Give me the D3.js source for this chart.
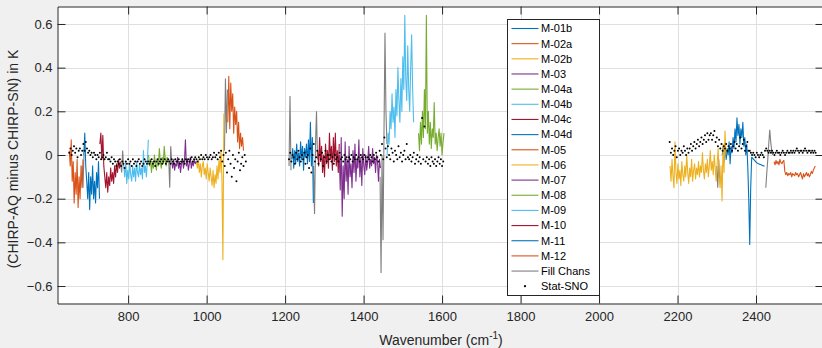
<!DOCTYPE html>
<html><head><meta charset="utf-8">
<script src="https://cdn.jsdelivr.net/npm/d3@7/dist/d3.min.js"></script>
<style>
html,body{margin:0;padding:0;background:#f0f0f0;}
svg{display:block;font-family:"Liberation Sans",Arial,Helvetica,sans-serif;}
</style></head>
<body><svg id="c" width="822" height="348"></svg>
<script>
// ---------- DATA ----------
const chanStep = 2.5;   // cm-1 between plotted channel values
const dotStep = 3;      // cm-1 between Stat-SNO values
const xTicks = [800, 1000, 1200, 1400, 1600, 1800, 2000, 2200, 2400];
const yTicks = [-0.6, -0.4, -0.2, 0, 0.2, 0.4, 0.6];
const legendNames = ["M-01b","M-02a","M-02b","M-03","M-04a","M-04b","M-04c","M-04d",
  "M-05","M-06","M-07","M-08","M-09","M-10","M-11","M-12","Fill Chans","Stat-SNO"];
const moduleColors = ["#0072BD","#D95319","#EDB120","#7E2F8E","#77AC30","#4DBEEE","#A2142F","#0072BD",
  "#D95319","#EDB120","#7E2F8E","#77AC30","#4DBEEE","#A2142F","#0072BD","#D95319"];
const fillColor = "#7f7f7f";

// module start wavenumbers (cm-1), same order as legendNames
const moduleStart = [2314, 2446, 2181, 1338, 1540, 1460, 1283, 1217, 1054, 974, 911, 852, 789, 728, 687, 650];

const M01b = [0.0,0.04,-0.03,0.05,-0.02,0.03,0.0,0.06,-0.04,0.04,0.01,
  0.08,0.03,0.12,0.06,0.17,0.09,0.14,0.05,0.12,0.08,0.15,
  0.04,0.08,0.0,0.05,-0.05,-0.2,-0.41,-0.15,
  -0.01,-0.015,-0.02,-0.025,-0.03,-0.035,-0.038,-0.04,-0.042,-0.044,-0.046,-0.048,-0.05,-0.05];
const M02a = [-0.03,-0.045,-0.025,-0.04,-0.03,-0.045,-0.02,-0.035,-0.04,-0.03,-0.025,-0.075,-0.09,-0.08,
  -0.095,-0.085,-0.09,-0.08,-0.1,-0.085,-0.09,-0.095,-0.08,-0.09,-0.085,-0.1,-0.09,-0.08,-0.095,-0.11,
  -0.085,-0.1,-0.09,-0.08,-0.095,-0.085,-0.1,-0.09,-0.075,-0.085,-0.07,-0.06,-0.05];
const M02b = [-0.05,-0.12,-0.02,-0.1,-0.15,0.06,-0.08,-0.13,-0.04,-0.11,-0.07,-0.14,-0.03,-0.09,-0.12,
  -0.05,-0.1,0.0,-0.08,-0.13,-0.06,-0.1,-0.02,-0.12,-0.07,-0.04,-0.11,-0.06,-0.09,-0.03,-0.1,-0.05,-0.08,
  0.01,-0.07,-0.11,-0.04,-0.08,-0.02,-0.1,-0.05,0.02,-0.07,-0.03,-0.09,0.0,-0.06,-0.12,-0.04,0.03,-0.1,
  -0.15,-0.05,-0.21,0.05,-0.08,0.11,0.0];
const M03 = [0.0,-0.16,0.08,-0.28,-0.05,-0.2,0.06,-0.12,-0.02,-0.18,0.04,-0.1,-0.04,-0.15,0.02,-0.08,0.05,
  -0.12,-0.02,-0.06,0.07,-0.1,-0.01,-0.14,0.03,-0.05,-0.09,0.0,-0.07,-0.03,0.04,-0.06,-0.02,-0.05,0.03,
  -0.04,-0.01,-0.08,0.0,-0.03,-0.12,-0.02,-0.06];
const M04a = [0.1,0.02,0.15,0.05,0.2,0.08,0.3,0.12,0.64,0.1,0.2,0.05,0.15,0.03,0.12,0.08,0.24,0.05,0.1,
  0.02,0.08,0.12,0.04,0.1,0.0,0.06,0.1];
const M04b = [0.0,0.1,0.05,0.2,0.12,0.28,0.15,0.22,0.08,0.3,0.18,0.4,0.25,0.15,0.35,0.2,0.45,0.3,0.64,
  0.35,0.25,0.5,0.3,0.2,0.4,0.55,0.3,0.15];
const M04c = [0.02,-0.05,0.08,-0.03,0.04,-0.08,0.0,-0.1,0.05,-0.04,0.02,-0.06,0.1,-0.02,0.04,-0.07,0.08,
  -0.03,0.1,-0.05,0.02,-0.08,0.05];
const M04d = [-0.02,0.03,-0.06,0.02,-0.04,0.05,-0.03,0.01,-0.05,0.06,-0.02,0.04,-0.07,0.03,-0.01,0.05,
  -0.04,0.07,-0.03,0.15,-0.05,0.08,-0.22];
const M05 = [0.15,0.36,0.12,0.33,0.2,0.28,0.1,0.22,0.14,0.2,0.06,0.15,0.03,0.1,0.04,0.08,0.02];
const M06 = [-0.03,-0.06,-0.02,-0.08,-0.04,-0.1,-0.05,-0.03,-0.09,-0.06,-0.11,-0.04,-0.08,-0.12,-0.06,
  -0.1,-0.14,-0.07,-0.15,-0.09,-0.13,-0.05,-0.11,-0.02,-0.08,0.02,-0.1,-0.48,0.19];
const M07 = [-0.03,-0.06,-0.02,-0.07,-0.04,-0.05,-0.01,-0.06,-0.03,-0.08,-0.04,-0.02,-0.06,-0.03,0.07,
  -0.05,-0.02,-0.07,-0.04,-0.01,-0.06,-0.03,-0.05,-0.02,-0.04,-0.03];
const M08 = [0.0,-0.05,-0.02,-0.08,-0.03,-0.06,0.0,-0.04,-0.07,-0.02,-0.05,0.03,-0.03,-0.06,-0.01,-0.04,
  0.04,-0.02,-0.05,-0.01,-0.03];
const M09 = [-0.05,-0.1,-0.03,-0.13,-0.07,-0.11,-0.04,-0.09,-0.12,-0.05,-0.1,-0.06,-0.12,-0.03,-0.08,-0.1,
  -0.04,-0.09,-0.06,-0.11,0.02,-0.08,-0.05,-0.1,-0.03,0.07];
const M10 = [0.05,0.1,-0.02,0.09,-0.05,-0.1,-0.15,-0.08,-0.17,-0.1,-0.14,-0.06,-0.12,-0.08,-0.13,-0.05,
  -0.1,-0.04,-0.08,-0.02,-0.06,-0.03];
const M11 = [0.0,0.1,-0.05,-0.12,-0.2,-0.08,-0.25,-0.1,-0.18,-0.05,-0.2,-0.12,-0.22,-0.08,-0.15,-0.03,-0.2];
const M12 = [0.02,-0.05,0.07,-0.12,-0.03,-0.22,-0.08,-0.18,-0.02,-0.24,-0.1,-0.2,-0.05,-0.15,-0.02];

// fill channels: start wavenumbers and values
const fillStart = [682.5, 781, 903.5, 1045.5, 1210, 1272.5, 1442, 2300, 2425];
const fill1 = [-0.05,-0.15,0.0];
const fill2 = [-0.04,-0.08,0.02,-0.05];
const fill3 = [-0.02,-0.15,0.04,-0.03];
const fill4 = [0.02,0.35,0.1,0.3];
const fill5 = [-0.05,0.27,-0.07];
const fill6 = [-0.05,-0.27,0.05,0.2,-0.02];
const fill7 = [-0.1,-0.54,0.0,-0.39,0.1,0.56,0.2,0.05];
const fill8 = [-0.05,-0.15,-0.02,-0.12];
const fill9 = [-0.15,-0.08,-0.02,0.05,0.115,0.06,0.02,0.0];

// Stat-SNO: start wavenumbers and values
const snoStart = [650, 1210, 2180];
const snoLW = [0.01,0.03,0.0,0.02,0.04,0.01,0.03,-0.01,0.02,0.03,0.0,0.02,0.05,0.02,0.06,0.03,0.01,
  0.02,0.0,0.01,-0.01,0.01,0.0,-0.02,0.0,-0.01,0.01,-0.02,-0.01,0.0,-0.02,-0.01,0.01,-0.02,
  -0.02,-0.03,-0.01,-0.04,-0.02,-0.03,-0.05,-0.03,-0.04,-0.02,-0.05,-0.03,-0.04,-0.06,-0.03,-0.04,-0.02,
  -0.04,-0.03,-0.05,-0.02,-0.04,-0.03,-0.05,-0.03,-0.02,-0.04,-0.03,-0.05,-0.04,-0.02,-0.03,-0.04,-0.03,
  -0.04,-0.03,-0.02,-0.04,-0.03,-0.05,-0.03,-0.02,-0.04,-0.03,-0.02,-0.04,-0.03,-0.02,-0.04,-0.03,-0.02,
  -0.03,-0.04,-0.02,-0.03,-0.04,-0.02,-0.03,-0.03,-0.02,-0.04,-0.03,-0.02,-0.03,-0.04,-0.02,-0.03,-0.02,
  -0.03,-0.02,-0.01,-0.03,-0.02,-0.01,-0.02,-0.03,-0.01,-0.02,0.0,-0.02,-0.01,-0.02,0.0,-0.01,-0.02,
  -0.01,0.0,-0.02,-0.01,0.01,-0.01,0.0,-0.02,0.01,-0.01,0.02,-0.03,0.0,-0.05,0.01,-0.08,-0.02,
  0.02,-0.04,-0.1,0.0,-0.06,-0.02,-0.12,-0.03,0.01,-0.07,-0.04,-0.01,-0.05,0.0,-0.03];
const snoMid = [-0.02,0.01,-0.03,0.0,-0.01,-0.04,0.01,-0.02,0.02,-0.01,-0.03,0.0,-0.02,0.01,-0.04,-0.01,0.0,
  -0.06,0.03,-0.08,0.0,0.05,-0.03,-0.01,0.02,-0.04,0.0,-0.02,0.01,-0.05,-0.01,0.02,-0.03,0.0,
  -0.02,0.0,-0.03,-0.01,-0.04,0.0,-0.02,-0.01,-0.03,0.01,-0.02,-0.01,-0.03,0.0,-0.02,-0.01,-0.03,
  -0.01,-0.02,0.0,-0.03,-0.01,-0.02,0.0,-0.02,-0.01,-0.03,0.0,-0.01,-0.02,0.0,-0.01,-0.03,-0.01,
  -0.02,0.0,-0.01,-0.03,0.0,-0.02,0.01,-0.01,-0.03,0.02,0.0,0.05,-0.02,0.08,0.03,-0.01,0.04,
  0.0,-0.02,0.03,0.01,-0.03,0.02,0.0,-0.02,0.04,-0.01,0.01,-0.03,0.0,0.02,-0.02,0.05,-0.01,
  -0.02,0.0,-0.03,-0.01,0.01,-0.04,-0.02,0.0,-0.03,-0.01,-0.04,0.17,-0.02,0.13,-0.03,-0.01,-0.04,
  -0.02,-0.05,-0.01,-0.03,-0.04,-0.02,-0.05,-0.03,-0.01,-0.04,-0.02,-0.05,-0.03];
const snoSW = [0.06,0.01,0.03,0.0,0.02,0.04,-0.01,0.02,0.03,0.0,0.02,0.01,0.04,0.02,0.0,0.03,0.01,
  0.03,0.05,0.02,0.04,0.06,0.03,0.05,0.07,0.04,0.06,0.08,0.05,0.07,0.09,0.06,0.1,0.07,
  0.09,0.1,0.07,0.09,0.11,0.06,0.08,0.04,0.07,0.03,0.05,0.02,0.04,0.03,0.05,0.02,0.04,
  0.03,0.05,0.02,0.04,0.06,0.03,0.05,0.02,0.04,0.08,0.03,0.05,0.07,0.02,0.04,0.06,0.02,
  0.02,0.01,0.0,0.01,0.0,-0.01,0.01,0.0,-0.01,0.0,0.01,0.0,-0.01,0.02,0.03,0.02,0.01,
  0.02,0.01,0.02,0.01,0.0,0.01,0.02,0.01,0.01,0.0,0.01,0.02,0.01,0.0,0.01,0.02,0.01,
  0.01,0.02,0.01,0.02,0.01,0.02,0.03,0.02,0.01,0.02,0.02,0.01,0.02,0.03,0.02,0.01,0.02,
  0.02,0.01,0.02,0.01,0.02,0.01];

// ---------- BUILD TABLES ----------
const moduleVals = [M01b,M02a,M02b,M03,M04a,M04b,M04c,M04d,M05,M06,M07,M08,M09,M10,M11,M12];
const toPts = (start, vals, step) => vals.map((v, i) => [start + i * step, v]);
const moduleSeries = moduleVals.map((vals, k) => ({name: legendNames[k], color: moduleColors[k],
  pts: toPts(moduleStart[k], vals, chanStep)}));
const fillSeries = [fill1,fill2,fill3,fill4,fill5,fill6,fill7,fill8,fill9].map((vals, k) =>
  toPts(fillStart[k], vals, chanStep));
const snoPts = [snoLW, snoMid, snoSW].flatMap((vals, k) => toPts(snoStart[k], vals, dotStep));

// ---------- CHART ----------
const svg = d3.select("#c");
const L = 57.5, R = 823.5, T = 6.5, B = 303.5;
const x = d3.scaleLinear().domain([620, 2572]).range([L, R]);
const y = d3.scaleLinear().domain([-0.68, 0.68]).range([B, T]);
const axisColor = "#262626";

svg.append("rect").attr("x", L).attr("y", T).attr("width", R - L).attr("height", B - T).attr("fill", "#fff");

// grid
const grid = svg.append("g").attr("stroke", "#dfdfdf").attr("stroke-width", 1);
grid.selectAll(".gx").data(xTicks).join("line")
  .attr("x1", d => Math.round(x(d)) + 0.5).attr("x2", d => Math.round(x(d)) + 0.5)
  .attr("y1", T).attr("y2", B);
grid.selectAll(".gy").data(yTicks).join("line")
  .attr("y1", d => Math.round(y(d)) + 0.5).attr("y2", d => Math.round(y(d)) + 0.5)
  .attr("x1", L).attr("x2", R);

svg.append("clipPath").attr("id", "clip").append("rect")
  .attr("x", L).attr("y", T).attr("width", R - L).attr("height", B - T);
const plot = svg.append("g").attr("clip-path", "url(#clip)");
const line = d3.line().x(d => x(d[0])).y(d => y(d[1]));

plot.selectAll(".fill").data(fillSeries).join("path")
  .attr("d", line).attr("fill", "none").attr("stroke", fillColor).attr("stroke-width", 1.1);
plot.selectAll(".mod").data(moduleSeries).join("path")
  .attr("d", d => line(d.pts)).attr("fill", "none").attr("stroke", d => d.color)
  .attr("stroke-width", 1.1).attr("stroke-linejoin", "round");
plot.selectAll(".sno").data(snoPts).join("circle")
  .attr("cx", d => x(d[0])).attr("cy", d => y(d[1])).attr("r", 1.0).attr("fill", "#000");

// axes
const fmtY = d => d === 0 ? "0" : d3.format(".1f")(d);
const ax = (g) => g.call(s => s.select(".domain").attr("stroke", axisColor))
  .call(s => s.selectAll(".tick line").attr("stroke", axisColor))
  .call(s => s.selectAll("text").attr("fill", axisColor).style("font-size", "13px")
     .style("font-family", '"Liberation Sans",Arial,sans-serif'));
svg.append("g").attr("transform", `translate(0,${B})`)
  .call(d3.axisBottom(x).tickValues(xTicks).tickFormat(d3.format("d")).tickSizeInner(-8).tickSizeOuter(0).tickPadding(8)).call(ax);
svg.append("g").attr("transform", `translate(0,${T})`)
  .call(d3.axisTop(x).tickValues(xTicks).tickSizeInner(-8).tickSizeOuter(0).tickFormat("")).call(ax);
svg.append("g").attr("transform", `translate(${L},0)`)
  .call(d3.axisLeft(y).tickValues(yTicks).tickSizeInner(-8).tickSizeOuter(0).tickPadding(5).tickFormat(fmtY)).call(ax);
svg.append("g").attr("transform", `translate(${R},0)`)
  .call(d3.axisRight(y).tickValues(yTicks).tickSizeInner(-8).tickSizeOuter(0).tickFormat("")).call(ax);

// axis labels
svg.append("text").attr("transform", `translate(18,${(T + B) / 2 + 4}) rotate(-90)`)
  .attr("text-anchor", "middle").attr("fill", axisColor).style("font-size", "14px")
  .text("(CHIRP-AQ minus CHIRP-SN) in K");
const xl = svg.append("text").attr("x", 441).attr("y", 345).attr("text-anchor", "middle")
  .attr("fill", axisColor).style("font-size", "14px");
xl.append("tspan").text("Wavenumber (cm");
xl.append("tspan").attr("dy", -6).style("font-size", "10px").text("-1");
xl.append("tspan").attr("dy", 6).text(")");

// legend
const lg = svg.append("g");
lg.append("rect").attr("x", 507.5).attr("y", 19.5).attr("width", 92).attr("height", 276)
  .attr("fill", "#fff").attr("stroke", "#262626").attr("stroke-width", 1);
const rowY = i => 28.5 + i * 15.16;
legendNames.forEach((nm, i) => {
  if (i < 17) {
    lg.append("line").attr("x1", 511.5).attr("x2", 538.5).attr("y1", rowY(i)).attr("y2", rowY(i))
      .attr("stroke", i < 16 ? moduleColors[i] : fillColor).attr("stroke-width", 1.1);
  } else {
    lg.append("circle").attr("cx", 525).attr("cy", rowY(i)).attr("r", 1.1).attr("fill", "#000");
  }
  lg.append("text").attr("x", 541).attr("y", rowY(i)).attr("dy", "0.35em")
    .style("font-size", "11px").attr("fill", "#000").text(nm);
});
</script></body></html>
